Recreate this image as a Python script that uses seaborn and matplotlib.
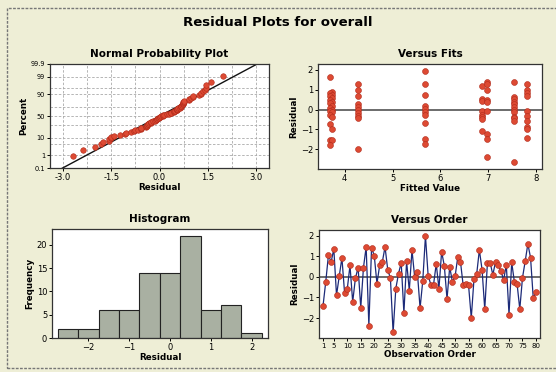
import numpy as np
import pandas as pd
import matplotlib
matplotlib.use("Agg")
import matplotlib.pyplot as plt
import seaborn as sns
from matplotlib.patches import Rectangle
from statistics import NormalDist

# residuals in observation order
residuals = [-1.4, -0.25, 1.05, 0.72, 1.35, -0.9, 0.02, 0.92, -0.8, -0.58,
             0.55, -1.22, -0.08, 0.45, -1.5, 0.45, 1.45, -2.37, 1.4, 1.03,
             -0.33, 0.55, 0.72, 1.45, 0.35, -0.08, -2.7, -0.57, 0.15, 0.68,
             -1.75, 0.75, -0.67, 1.3, -0.02, 0.22, -1.52, -0.2, 1.98, 0.05,
             -0.38, -0.38, 0.63, -0.58, 1.22, 0.53, -1.08, 0.48, -0.25, 0.02,
             0.97, 0.72, -0.42, -0.35, -0.42, -2.0, -0.12, 0.12, 1.3, 0.35,
             -1.57, 0.68, 0.68, 0.1, 0.72, 0.55, 0.28, -0.15, 0.58, -1.83,
             0.7, -0.25, -0.35, -1.57, -0.05, 0.75, 1.6, 0.92, -1.05, -0.75]
order = list(range(1, len(residuals) + 1))

# Versus Fits: residual groups at each fitted value
fit_a = [3.69, 3.74]
resid_a = [1.62, 0.9, 0.85, 0.75, 0.7, 0.6, 0.5, 0.4, 0.35, 0.2, 0.1, 0.0,
           -0.05, -0.1, -0.25, -0.35, -0.75, -1.0, -1.55, -1.55, -1.8]
fit_levels = [4.27, 5.67, 6.87, 6.98, 7.55, 7.82]
resid_groups = [
    [1.3, 0.97, 0.7, 0.3, 0.15, 0.0, -0.15, -0.3, -0.45, -1.97],
    [1.97, 1.3, 0.75, 0.2, 0.05, -0.1, -0.25, -0.7, -1.5, -1.75],
    [1.2, 0.55, 0.45, -0.05, -0.25, -0.4, -0.5, -1.08],
    [1.4, 1.3, 1.0, 0.5, 0.4, -0.08, -1.25, -1.5, -2.4],
    [1.38, 0.65, 0.55, 0.4, 0.3, 0.15, 0.0, -0.1, -0.35, -0.45, -0.6, -2.65],
    [1.3, 1.0, 0.85, 0.7, -0.05, -0.3, -0.6, -0.9, -1.0, -1.42],
]

# Histogram bins
hist_centers = [-2.5, -2.0, -1.5, -1.0, -0.5, 0.0, 0.5, 1.0, 1.5, 2.0]
hist_counts = [2, 2, 6, 6, 14, 14, 22, 6, 7, 1]

pct_ticks = [0.1, 1, 10, 50, 90, 99, 99.9]
pct_labels = ["0.1", "1", "10", "50", "90", "99", "99.9"]

sns.set_style("white")
plt.rcParams["font.family"] = ["DejaVu Sans"]
plt.rcParams["text.color"] = "black"
plt.rcParams["axes.labelcolor"] = "black"
plt.rcParams["xtick.color"] = "black"
plt.rcParams["ytick.color"] = "black"

bg = "#eeeed6"
dot = "#dd4a33"
dot_edge = "#b02a1a"
fig = plt.figure(figsize=(5.56, 3.72), dpi=100, facecolor=bg)
fig.patches.append(Rectangle((7 / 556, 4 / 372), 1.0, 1 - 12 / 372,
                             transform=fig.transFigure, fill=False,
                             edgecolor="#777777", lw=1, ls=(0, (2, 1))))
fig.text(0.5, 1 - 22 / 372, "Residual Plots for overall", ha="center",
         va="center", fontsize=9.5, fontweight="bold", color="black")


def box(x0, y0, x1, y1):
    return fig.add_axes([x0 / 556, 1 - y1 / 372, (x1 - x0) / 556, (y1 - y0) / 372])


def style(ax, title, xlabel, ylabel):
    ax.set_facecolor("white")
    for s in ax.spines.values():
        s.set_color("#333333")
        s.set_linewidth(0.9)
    ax.set_title(title, fontsize=7.5, fontweight="bold", pad=5, color="black")
    ax.set_xlabel(xlabel, fontsize=6.3, fontweight="bold", labelpad=1)
    ax.set_ylabel(ylabel, fontsize=6.3, fontweight="bold", labelpad=2)
    ax.tick_params(axis="both", labelsize=6, length=2.5, width=0.7, pad=1,
                   direction="out", bottom=True, left=True, colors="black")


# --- Normal probability plot ---
nd = NormalDist()
ax1 = box(50, 64, 269, 168)
r = np.sort(np.array(residuals))
n = len(r)
prob = pd.DataFrame({"res": r,
                     "z": [nd.inv_cdf((i + 1 - 0.3) / (n + 0.4)) for i in range(n)]})
mu, sd = r.mean(), r.std(ddof=1)
xs = np.array([-3.4, 3.4])
line = pd.DataFrame({"res": xs, "z": (xs - mu) / sd})
zlim = nd.inv_cdf(0.001)
for gx in np.arange(-3.0, 3.01, 0.75):
    ax1.axvline(gx, color="#aaaaaa", lw=0.6, ls=(0, (3, 2)), zorder=0)
for gp in [1, 5, 10, 30, 50, 70, 90, 95, 99]:
    ax1.axhline(nd.inv_cdf(gp / 100), color="#aaaaaa", lw=0.6, ls=(0, (3, 2)), zorder=0)
sns.lineplot(data=line, x="res", y="z", ax=ax1, color="#111111", lw=1)
sns.scatterplot(data=prob, x="res", y="z", ax=ax1, color=dot, edgecolor=dot_edge,
                s=16, linewidth=0.4, zorder=3)
ax1.set_xlim(-3.4, 3.4)
ax1.set_ylim(zlim, -zlim)
ax1.set_xticks([-3.0, -1.5, 0.0, 1.5, 3.0])
ax1.set_xticklabels(["-3.0", "-1.5", "0.0", "1.5", "3.0"])
ax1.set_yticks([nd.inv_cdf(p / 100) for p in pct_ticks])
ax1.set_yticklabels(pct_labels)
style(ax1, "Normal Probability Plot", "Residual", "Percent")
ax1.tick_params(axis="y", labelsize=4.8)

# --- Versus fits ---
ax2 = box(318, 64, 542, 169)
fx = [fit_a[i % 2] for i in range(len(resid_a))]
fy = list(resid_a)
for lv, grp in zip(fit_levels, resid_groups):
    fx += [lv] * len(grp)
    fy += grp
fits = pd.DataFrame({"fit": fx, "res": fy})
ax2.axhline(0, color="#444444", lw=1.1, zorder=1)
sns.scatterplot(data=fits, x="fit", y="res", ax=ax2, color=dot, edgecolor=dot_edge,
                s=18, linewidth=0.4, zorder=3)
ax2.set_xlim(3.44, 8.13)
ax2.set_ylim(-3.0, 2.3)
ax2.set_xticks([4, 5, 6, 7, 8])
ax2.set_yticks([-2, -1, 0, 1, 2])
style(ax2, "Versus Fits", "Fitted Value", "Residual")

# --- Histogram ---
ax3 = box(52, 229, 268, 338)
hist_df = pd.DataFrame({"center": hist_centers, "count": hist_counts})
edges = [c - 0.25 for c in hist_centers] + [hist_centers[-1] + 0.25]
sns.histplot(data=hist_df, x="center", weights="count", bins=edges, ax=ax3,
             color="#a9b0a2", edgecolor="#222222", linewidth=0.8, alpha=1)
ax3.set_xlim(-2.89, 2.4)
ax3.set_ylim(0, 23.4)
ax3.set_xticks([-2, -1, 0, 1, 2])
ax3.set_yticks([0, 5, 10, 15, 20])
style(ax3, "Histogram", "Residual", "Frequency")

# --- Versus order ---
ax4 = box(319, 230, 540, 338)
ordd = pd.DataFrame({"obs": order, "res": residuals})
ax4.axhline(0, color="#444444", lw=1.1, zorder=1)
sns.lineplot(data=ordd, x="obs", y="res", ax=ax4, color="#1c2a78", lw=0.9, zorder=2)
sns.scatterplot(data=ordd, x="obs", y="res", ax=ax4, color=dot, edgecolor=dot_edge,
                s=18, linewidth=0.4, zorder=3)
ax4.set_xlim(-0.5, 81.5)
ax4.set_ylim(-2.97, 2.27)
ax4.set_xticks([1] + list(range(5, 81, 5)))
ax4.set_yticks([-2, -1, 0, 1, 2])
style(ax4, "Versus Order", "Observation Order", "Residual")
ax4.tick_params(axis="x", labelsize=5)

fig.savefig("out.png", dpi=100, facecolor=bg)
